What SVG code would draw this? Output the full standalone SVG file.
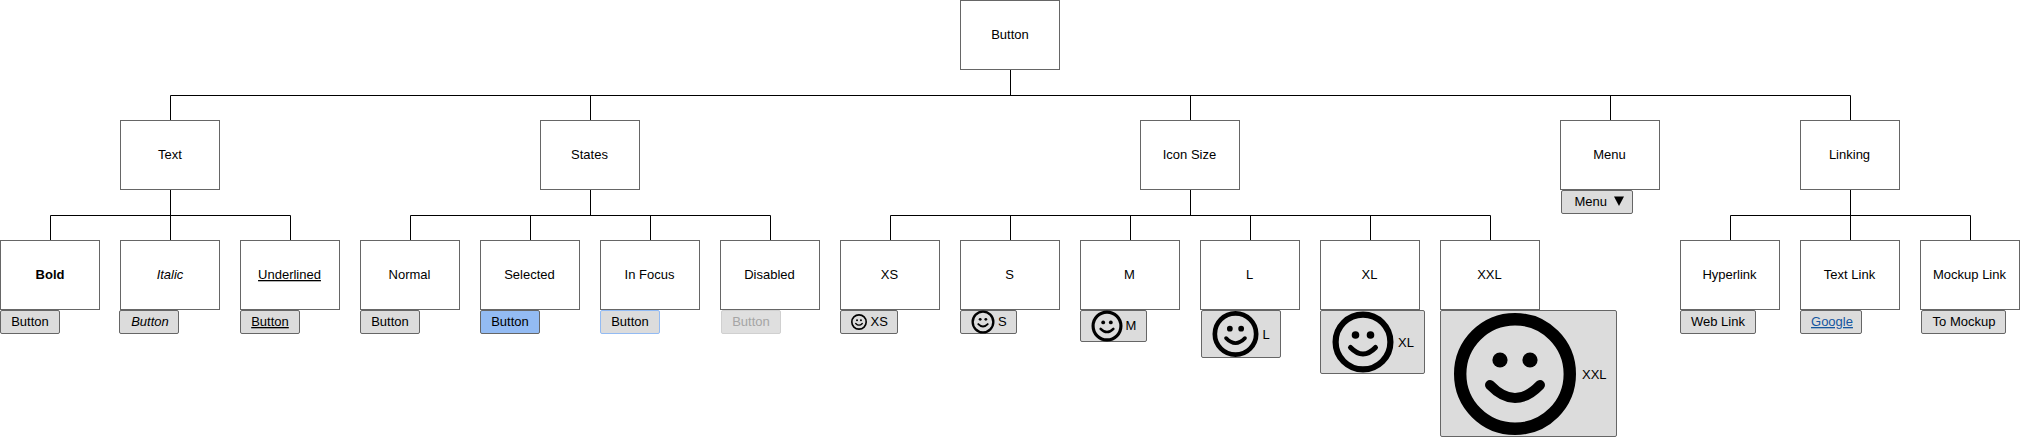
<svg xmlns="http://www.w3.org/2000/svg" width="2020" height="438" viewBox="0 0 2020 438">
<style>
.n{fill:#fff;stroke:#666;stroke-width:1}
.b{fill:#dcdcdc;stroke:#666;stroke-width:1}
.c{fill:none;stroke:#000;stroke-width:1}
text{font-family:"Liberation Sans",Arial,sans-serif;font-size:13px;fill:#000}
.m{text-anchor:middle}
</style>
<defs>
<symbol id="smile" viewBox="0 0 122 122" overflow="visible">
<circle cx="61" cy="61" r="54.8" fill="none" stroke="#000" stroke-width="12.4"/>
<circle cx="46" cy="47" r="7.6" fill="#000"/>
<circle cx="76" cy="47" r="7.6" fill="#000"/>
<path d="M36 72Q61 98 86 72" fill="none" stroke="#000" stroke-width="10" stroke-linecap="round"/>
</symbol>
</defs>
<rect width="2020" height="438" fill="#fff"/>
<g id="connectors" class="c">
<path d="M1010.500 69V95.500M170.500 120V95.500H1850.500V120M590.500 95.500V120M1190.500 95.500V120M1610.500 95.500V120"/>
<path d="M170.500 189V215.500M50.500 240V215.500H290.500V240M170.500 215.500V240"/>
<path d="M590.500 189V215.500M410.500 240V215.500H770.500V240M530.500 215.500V240M650.500 215.500V240"/>
<path d="M1190.500 189V215.500M890.500 240V215.500H1490.500V240M1010.500 215.500V240M1130.500 215.500V240M1250.500 215.500V240M1370.500 215.500V240"/>
<path d="M1850.500 189V215.500M1730.500 240V215.500H1970.500V240M1850.500 215.500V240"/>
</g>
<g id="n-button"><rect class="n" x="960.500" y="0.500" width="99" height="69"/><text class="m" x="1010" y="39">Button</text></g>
<g id="n-text"><rect class="n" x="120.500" y="120.500" width="99" height="69"/><text class="m" x="170" y="159">Text</text></g>
<g id="n-states"><rect class="n" x="540.500" y="120.500" width="99" height="69"/><text class="m" x="589.500" y="159">States</text></g>
<g id="n-iconsize"><rect class="n" x="1140.500" y="120.500" width="99" height="69"/><text class="m" x="1189.500" y="159">Icon Size</text></g>
<g id="n-menu"><rect class="n" x="1560.500" y="120.500" width="99" height="69"/><text class="m" x="1609.500" y="159">Menu</text>
<rect class="b" x="1561.500" y="190.500" width="71" height="23" rx="1.500"/><text x="1574.500" y="206">Menu</text><path d="M1614 196.500h10l-5 9.500z" fill="#000"/></g>
<g id="n-linking"><rect class="n" x="1800.500" y="120.500" width="99" height="69"/><text class="m" x="1849.500" y="159">Linking</text></g>
<g id="n-bold"><rect class="n" x="0.500" y="240.500" width="99" height="69"/><text class="m" x="50" y="279" font-weight="700" style="font-weight:700">Bold</text>
<rect class="b" x="0.500" y="310.500" width="59" height="23" rx="1.500"/><text class="m" x="30" y="326">Button</text></g>
<g id="n-italic"><rect class="n" x="120.500" y="240.500" width="99" height="69"/><text class="m" x="170" y="279" font-style="italic">Italic</text>
<rect class="b" x="119.500" y="310.500" width="59" height="23" rx="1.500"/><text class="m" x="150" y="326" font-style="italic">Button</text></g>
<g id="n-underlined"><rect class="n" x="240.500" y="240.500" width="99" height="69"/><text class="m" x="289.500" y="279" text-decoration="underline">Underlined</text>
<rect class="b" x="240.500" y="310.500" width="59" height="23" rx="1.500"/><text class="m" x="270" y="326" text-decoration="underline">Button</text></g>
<g id="n-normal"><rect class="n" x="360.500" y="240.500" width="99" height="69"/><text class="m" x="409.500" y="279">Normal</text>
<rect class="b" x="360.500" y="310.500" width="59" height="23" rx="1.500"/><text class="m" x="390" y="326">Button</text></g>
<g id="n-selected"><rect class="n" x="480.500" y="240.500" width="99" height="69"/><text class="m" x="529.500" y="279">Selected</text>
<rect class="b" style="fill:#93bbf3" x="480.500" y="310.500" width="59" height="23" rx="1.500"/><text class="m" x="510" y="326">Button</text></g>
<g id="n-infocus"><rect class="n" x="600.500" y="240.500" width="99" height="69"/><text class="m" x="649.500" y="279">In Focus</text>
<rect class="b" style="stroke:#93bbf3" x="600.500" y="310.500" width="59" height="23" rx="1.500"/><text class="m" x="630" y="326">Button</text></g>
<g id="n-disabled"><rect class="n" x="720.500" y="240.500" width="99" height="69"/><text class="m" x="769.500" y="279">Disabled</text>
<rect class="b" style="fill:#dfdfdf;stroke:#d0d0d0" x="721.500" y="310.500" width="59" height="23" rx="1.500"/><text class="m" x="751" y="326" style="fill:#a5a5a5">Button</text></g>
<g id="n-xs"><rect class="n" x="840.500" y="240.500" width="99" height="69"/><text class="m" x="889.500" y="279">XS</text>
<rect class="b" x="840.500" y="310.500" width="57" height="23" rx="1.500"/><use href="#smile" x="851" y="314" width="16" height="16"/><text x="870.500" y="326">XS</text></g>
<g id="n-s"><rect class="n" x="960.500" y="240.500" width="99" height="69"/><text class="m" x="1009.500" y="279">S</text>
<rect class="b" x="960.500" y="310.500" width="56" height="23" rx="1.500"/><use href="#smile" x="971.500" y="310.500" width="23" height="23"/><text x="998" y="326">S</text></g>
<g id="n-m"><rect class="n" x="1080.500" y="240.500" width="99" height="69"/><text class="m" x="1129.500" y="279">M</text>
<rect class="b" x="1080.500" y="310.500" width="66" height="31" rx="1.500"/><use href="#smile" x="1091.500" y="310.500" width="31" height="31"/><text x="1125.500" y="330">M</text></g>
<g id="n-l"><rect class="n" x="1200.500" y="240.500" width="99" height="69"/><text class="m" x="1249.500" y="279">L</text>
<rect class="b" x="1201.500" y="310.500" width="79" height="47" rx="1.500"/><use href="#smile" x="1212.500" y="311" width="46" height="46"/><text x="1262.500" y="339">L</text></g>
<g id="n-xl"><rect class="n" x="1320.500" y="240.500" width="99" height="69"/><text class="m" x="1369.500" y="279">XL</text>
<rect class="b" x="1320.500" y="310.500" width="104" height="63" rx="1.500"/><use href="#smile" x="1332.500" y="311.500" width="61" height="61"/><text x="1398" y="347">XL</text></g>
<g id="n-xxl"><rect class="n" x="1440.500" y="240.500" width="99" height="69"/><text class="m" x="1489.500" y="279">XXL</text>
<rect class="b" x="1440.500" y="310.500" width="176" height="126" rx="1.500"/><use href="#smile" x="1454" y="313" width="122" height="122"/><text x="1582" y="379">XXL</text></g>
<g id="n-hyperlink"><rect class="n" x="1680.500" y="240.500" width="99" height="69"/><text class="m" x="1729.500" y="279">Hyperlink</text>
<rect class="b" x="1680.500" y="310.500" width="75" height="23" rx="1.500"/><text class="m" x="1718" y="326">Web Link</text></g>
<g id="n-textlink"><rect class="n" x="1800.500" y="240.500" width="99" height="69"/><text class="m" x="1849.500" y="279">Text Link</text>
<rect class="b" x="1800.500" y="310.500" width="61" height="23" rx="1.500"/><text class="m" x="1832" y="326" text-decoration="underline" style="fill:#14569f">Google</text></g>
<g id="n-mockuplink"><rect class="n" x="1920.500" y="240.500" width="99" height="69"/><text class="m" x="1969.500" y="279">Mockup Link</text>
<rect class="b" x="1921.500" y="310.500" width="84" height="23" rx="1.500"/><text class="m" x="1964" y="326">To Mockup</text></g>
</svg>
